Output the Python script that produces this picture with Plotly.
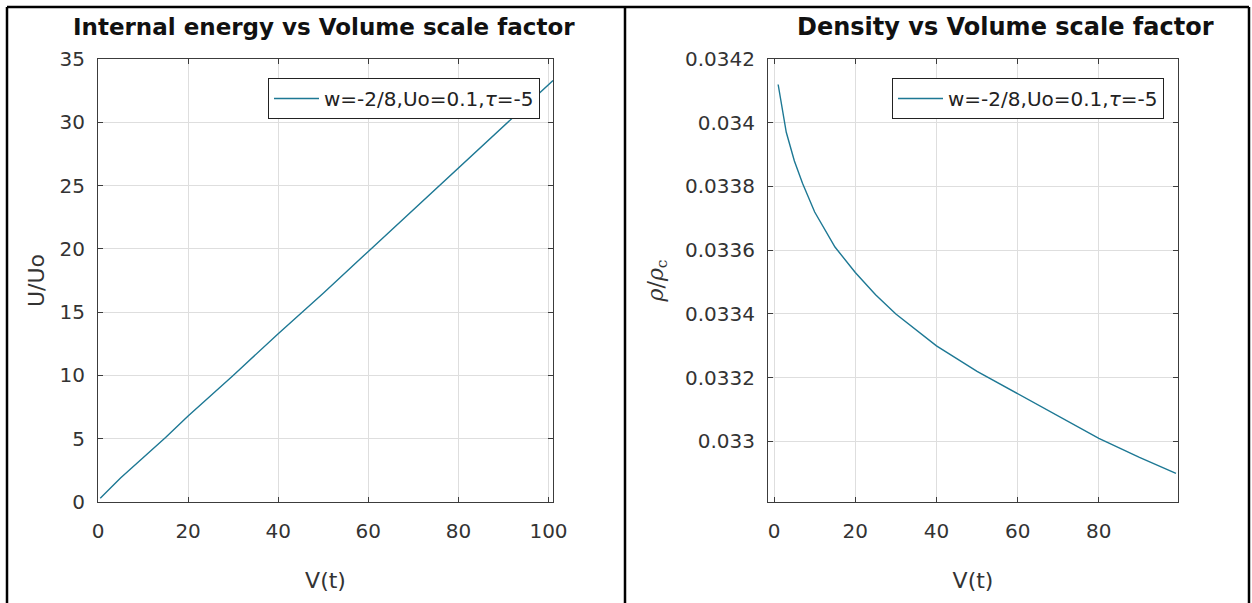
import plotly.graph_objects as go

# Internal energy curve (left panel)
vol_u = [0.5, 5, 10, 15, 20, 25, 30, 40, 50, 60, 70, 80, 90, 100, 101]
energy = [0.3, 1.9, 3.5, 5.1, 6.8, 8.4, 10.0, 13.3, 16.5, 19.8, 23.1, 26.4, 29.7, 33.0, 33.3]

# Density curve (right panel)
vol_rho = [1, 2, 3, 5, 7, 10, 15, 20, 25, 30, 40, 50, 60, 70, 80, 90, 99]
density = [0.03412, 0.03404, 0.03397, 0.03388, 0.03381, 0.03372, 0.03361, 0.03353,
           0.03346, 0.03340, 0.03330, 0.03322, 0.03315, 0.03308, 0.03301, 0.03295, 0.03290]

rho_ticks = [0.0330, 0.0332, 0.0334, 0.0336, 0.0338, 0.0340, 0.0342]
rho_ticktext = ["0.033", "0.0332", "0.0334", "0.0336", "0.0338", "0.034", "0.0342"]

legend_label = "w=-2/8,Uo=0.1,<i>τ</i>=-5"
W, H = 1252, 603
FONT = "DejaVu Sans, sans-serif"
LINE = "#1d7894"
AX = "#3c3c3c"
GRID = "#dedede"


def px_x(p):
    return p / W


def px_y(p):
    return 1 - p / H


axis_style = dict(showline=True, linecolor=AX, linewidth=1, mirror="ticks",
                  ticks="inside", ticklen=5, tickcolor=AX, showgrid=True,
                  gridcolor=GRID, gridwidth=1, zeroline=False,
                  tickfont=dict(size=20, color="#333333", family=FONT),
                  automargin=False)

fig = go.Figure()
fig.add_trace(go.Scatter(x=vol_u, y=energy, mode="lines", name=legend_label,
                         line=dict(color=LINE, width=1.4), xaxis="x", yaxis="y",
                         legend="legend"))
fig.add_trace(go.Scatter(x=vol_rho, y=density, mode="lines", name=legend_label,
                         line=dict(color=LINE, width=1.4), xaxis="x2", yaxis="y2",
                         legend="legend2"))

top, bottom = 59, 502
ydom = [px_y(bottom), px_y(top)]
legend_style = dict(y=px_y(78), xanchor="right", yanchor="top", bgcolor="white",
                    bordercolor="#222222", borderwidth=1, itemwidth=45,
                    font=dict(size=20, color="#222222", family=FONT))

fig.update_layout(
    width=W, height=H, margin=dict(l=0, r=0, t=0, b=0),
    paper_bgcolor="white", plot_bgcolor="white",
    font=dict(family=FONT, color="#333333"),
    xaxis=dict(axis_style, domain=[px_x(98), px_x(553)], range=[0, 101],
               tickvals=[0, 20, 40, 60, 80, 100], anchor="y", ticklabelstandoff=11,
               title=dict(text="V(t)", font=dict(size=22), standoff=30)),
    yaxis=dict(axis_style, domain=ydom, range=[0, 35], anchor="x",
               tickvals=[0, 5, 10, 15, 20, 25, 30, 35], ticklabelstandoff=8,
               title=dict(text="U/Uo", font=dict(size=22), standoff=8)),
    xaxis2=dict(axis_style, domain=[px_x(768), px_x(1178)], range=[-1.5, 99.5],
                tickvals=[0, 20, 40, 60, 80], anchor="y2", ticklabelstandoff=11,
                title=dict(text="V(t)", font=dict(size=22), standoff=30)),
    yaxis2=dict(axis_style, domain=ydom, range=[0.03281, 0.0342], anchor="x2",
                tickvals=rho_ticks, ticktext=rho_ticktext, ticklabelstandoff=8,
                title=dict(text="<i>ρ</i>/<i>ρ</i><sub>c</sub>", font=dict(size=22,
                           family="DejaVu Serif, serif"), standoff=15)),
    legend=dict(legend_style, x=px_x(540)),
    legend2=dict(legend_style, x=px_x(1164)),
    showlegend=True,
)

# panel titles (the right one sits a little wider in the source image)
for cx, size, txt in [(324, 23, "Internal energy vs Volume scale factor"),
                      (1006, 24, "Density vs Volume scale factor")]:
    fig.add_annotation(x=px_x(cx), y=px_y(27), xref="paper", yref="paper",
                       xanchor="center", yanchor="middle",
                       text=f"<b>{txt}</b>", showarrow=False,
                       font=dict(size=size, color="#111111", family=FONT))

# table frame around the two panels
for x0, y0, x1, y1 in [(7, 7, 1249, 7), (7, 7, 7, 603), (625, 7, 625, 603), (1249, 7, 1249, 603)]:
    fig.add_shape(type="line", xref="paper", yref="paper",
                  x0=px_x(x0), y0=px_y(y0), x1=px_x(x1), y1=px_y(y1),
                  line=dict(color="black", width=2.5))

fig.write_html("out.html", config={"displayModeBar": False},
               post_script="document.body.style.margin='0px';")
